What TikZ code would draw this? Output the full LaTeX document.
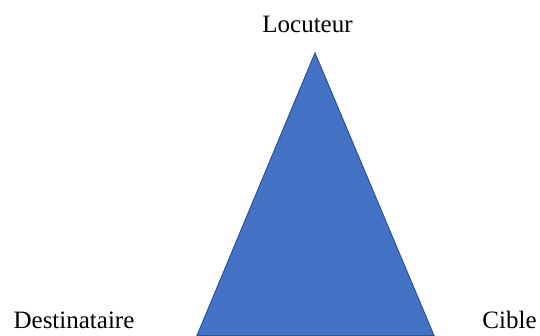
\documentclass[tikz,border=0pt]{standalone}
\usepackage{fontspec}
\setmainfont{Liberation Serif}
\usetikzlibrary{positioning}
\definecolor{trifill}{HTML}{4472C4}
\definecolor{triedge}{HTML}{2F528F}
\newcommand{\fsLabel}{\fontsize{25}{30}\selectfont}

\begin{document}
\begin{tikzpicture}[x=1pt, y=-1pt,
    lbl/.style={font=\fsLabel, text=black, inner sep=0pt, anchor=base},
    tri/.style={fill=trifill, draw=triedge, line width=1pt, line join=miter}]
  \useasboundingbox (0,0) rectangle (540,336);
  % sommets du triangle
  \coordinate (apex) at (315,53);
  \coordinate (bl) at (197,335.5);
  \coordinate (br) at (434,335.5);
  \draw[tri] (apex) -- (bl) -- (br) -- cycle;
  % etiquettes
  \node[lbl] (loc) at (307.5,33) {Locuteur};
  \node[lbl] (dest) at (74,328.5) {Destinataire};
  \node[lbl] (cible) at (509.5,328.5) {Cible};
\end{tikzpicture}
\end{document}
